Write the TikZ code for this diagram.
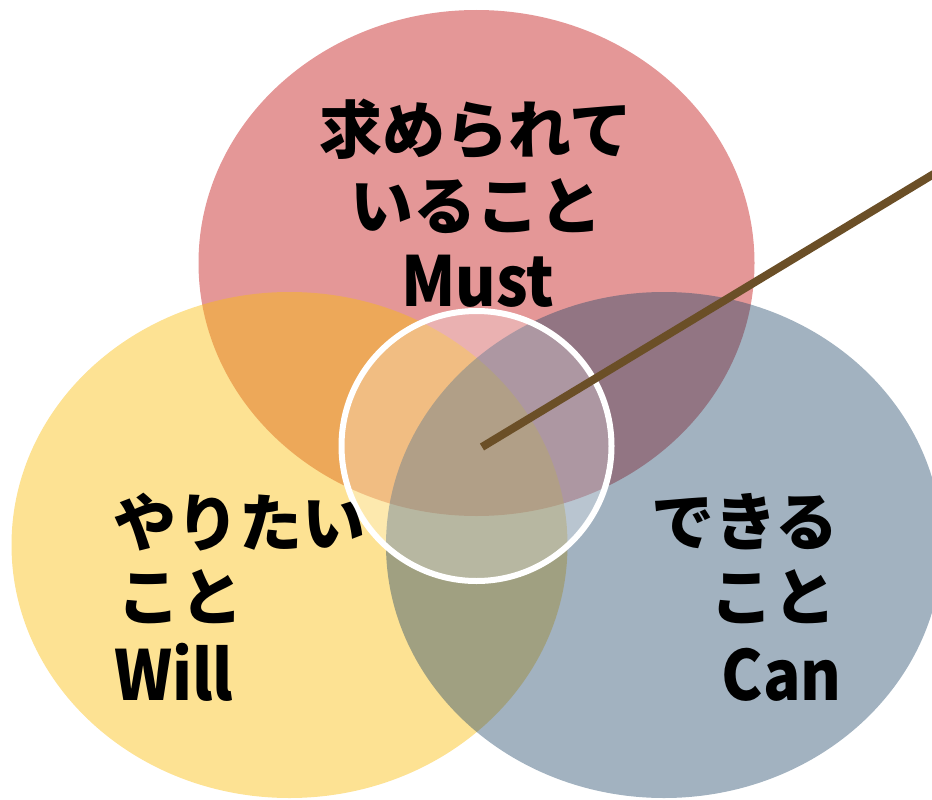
\documentclass[tikz,border=0pt]{standalone}
\usepackage{fontspec}
\newfontfamily\jpfont{Noto Sans CJK JP}
\newfontfamily\latinfont{Noto Sans CJK JP}[FakeStretch=0.9]
\definecolor{mustred}{RGB}{228,151,151}
\definecolor{willyellow}{RGB}{250,190,15}
\definecolor{canblue}{RGB}{33,71,105}
\definecolor{pinbrown}{RGB}{107,79,39}
\tikzset{
  jptext/.style={inner sep=0pt, font=\jpfont\bfseries\fontsize{63}{63}\selectfont, text=black},
  latintext/.style={inner sep=0pt, font=\latinfont\bfseries\fontsize{69}{69}\selectfont, text=black},
  pinline/.style={draw=pinbrown, line width=8pt, line cap=butt},
}
\begin{document}
\begin{tikzpicture}[x=1pt, y=-1pt]
\useasboundingbox (0,0) rectangle (932,800);
\clip (0,0) rectangle (932,800);
% circles
\fill[mustred] (476.5,263) ellipse [x radius=278pt, y radius=253pt];
\fill[willyellow, fill opacity=0.45] (289.5,545) ellipse [x radius=278pt, y radius=253pt];
\fill[canblue, fill opacity=0.42] (664,545) ellipse [x radius=278pt, y radius=253pt];
% core circle
\node[circle, draw=white, line width=6pt, fill=white, fill opacity=0.25, draw opacity=1, minimum size=270pt, inner sep=0pt] (core) at (476.5,446) {};
% pointer line
\coordinate (pin) at (482,447);
\coordinate (pinend) at (942,169);
\draw[pinline] (pin) -- (pinend);
% Must
\node[jptext, anchor=base] (must1) at (476,153) {求められて};
\node[jptext, anchor=base] (must2) at (476,229) {いること};
\node[latintext, anchor=base] (must3) at (478,306) {Must};
% Will
\node[jptext, anchor=base west] (will1) at (113,546) {やりたい};
\node[jptext, anchor=base west] (will2) at (117,620) {こと};
\node[latintext, anchor=base west] (will3) at (114,700) {Will};
% Can
\node[jptext, anchor=base east] (can1) at (839,545) {できる};
\node[jptext, anchor=base east] (can2) at (837,620) {こと};
\node[latintext, anchor=base east] (can3) at (842,700) {Can};
\end{tikzpicture}
\end{document}
